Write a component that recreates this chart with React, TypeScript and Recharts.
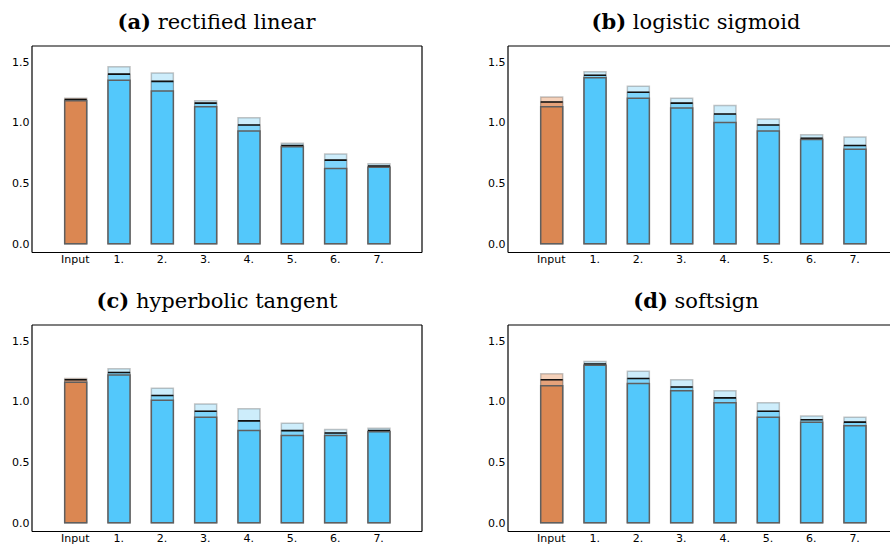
import React from "react";
import { BarChart, Bar, XAxis, YAxis, Cell } from "recharts";

const categories = ["Input", "1.", "2.", "3.", "4.", "5.", "6.", "7."];
const yTicks = [0, 0.5, 1.0, 1.5];

// rectified linear
const reluLow = [1.18, 1.35, 1.26, 1.13, 0.93, 0.8, 0.62, 0.63];
const reluMean = [1.19, 1.4, 1.34, 1.16, 0.98, 0.81, 0.69, 0.64];
const reluHigh = [1.2, 1.46, 1.41, 1.18, 1.04, 0.83, 0.74, 0.66];

// logistic sigmoid
const sigLow = [1.13, 1.37, 1.2, 1.12, 1.0, 0.93, 0.86, 0.78];
const sigMean = [1.17, 1.39, 1.25, 1.16, 1.07, 0.98, 0.87, 0.81];
const sigHigh = [1.21, 1.42, 1.3, 1.2, 1.14, 1.03, 0.9, 0.88];

// hyperbolic tangent
const tanhLow = [1.16, 1.22, 1.01, 0.87, 0.76, 0.72, 0.72, 0.75];
const tanhMean = [1.18, 1.24, 1.05, 0.92, 0.84, 0.76, 0.74, 0.76];
const tanhHigh = [1.19, 1.27, 1.11, 0.98, 0.94, 0.82, 0.77, 0.78];

// softsign
const softLow = [1.13, 1.3, 1.15, 1.09, 0.99, 0.87, 0.83, 0.8];
const softMean = [1.18, 1.31, 1.19, 1.12, 1.03, 0.92, 0.85, 0.83];
const softHigh = [1.23, 1.33, 1.25, 1.18, 1.09, 0.99, 0.88, 0.87];

const FONT = "DejaVu Sans";
const PLOT_W = 390;
const PLOT_H = 206.5;
const Y_W = 32;

const blue = { solid: "#53c8fb", mid: "#7fd5fb", light: "#cdedfb" };
const orange = { solid: "#db8752", mid: "#e5a27a", light: "#f5d1ba" };

function MeanShape(props: any) {
  const { x, y, width, height, fill } = props;
  if (height == null || height <= 0) return null;
  return (
    <g>
      <rect x={x} y={y} width={width} height={height} fill={fill} stroke="rgba(90,90,90,0.4)" strokeWidth={1.2} />
      <line x1={x} x2={x + width} y1={y} y2={y} stroke="#111" strokeWidth={1.6} />
    </g>
  );
}

function Panel({
  title,
  low,
  mean,
  high,
  plotLeft,
  plotTop,
  titleX,
}: {
  title: [string, string];
  low: number[];
  mean: number[];
  high: number[];
  plotLeft: number;
  plotTop: number;
  titleX: number;
}) {
  const data = categories.map((name, i) => ({
    name,
    low: low[i],
    mean: mean[i],
    high: high[i],
  }));
  const domain: [number, number] = [-0.073, 1.632];
  const pad = { left: 21.7, right: 21.7 };
  const topMargin = 5;
  const width = Y_W + PLOT_W + 10;
  const height = topMargin + PLOT_H + 22;
  const tickStyle = { fill: "#000", fontSize: 11, fontFamily: FONT };

  return (
    <>
      <div
        style={{
          position: "absolute",
          left: titleX - 170,
          top: plotTop - 35,
          width: 340,
          textAlign: "center",
          fontFamily: "DejaVu Serif",
          fontSize: 21,
          lineHeight: "22px",
          color: "#000",
          whiteSpace: "nowrap",
        }}
      >
        <b>{title[0]}</b> {title[1]}
      </div>
      <div style={{ position: "absolute", left: plotLeft - Y_W, top: plotTop - topMargin }}>
        <BarChart
          width={width}
          height={height}
          data={data}
          margin={{ top: topMargin, right: 10, bottom: 0, left: 0 }}
          barSize={22}
          barGap={-22}
        >
          <XAxis
            dataKey="name"
            padding={pad}
            height={22}
            tick={tickStyle}
            tickLine={false}
            tickSize={0}
            tickMargin={3}
            axisLine={{ stroke: "#000", strokeWidth: 1.2 }}
            interval={0}
          />
          <XAxis
            xAxisId="top"
            dataKey="name"
            orientation="top"
            mirror
            height={1}
            padding={pad}
            tick={false}
            tickSize={4}
            tickLine={{ stroke: "#000" }}
            axisLine={{ stroke: "#000", strokeWidth: 1.2 }}
            interval={0}
          />
          <YAxis
            type="number"
            domain={domain}
            ticks={yTicks}
            allowDataOverflow
            width={Y_W}
            tick={tickStyle}
            tickFormatter={(v: number) => v.toFixed(1)}
            tickLine={false}
            tickSize={0}
            tickMargin={2.5}
            axisLine={{ stroke: "#000", strokeWidth: 1.2 }}
          />
          <YAxis
            yAxisId="leftIn"
            type="number"
            domain={domain}
            ticks={yTicks}
            allowDataOverflow
            mirror
            width={1}
            tick={false}
            tickSize={4}
            tickLine={{ stroke: "#000" }}
            axisLine={false}
          />
          <YAxis
            yAxisId="right"
            orientation="right"
            type="number"
            domain={domain}
            ticks={yTicks}
            allowDataOverflow
            mirror
            width={1}
            tick={false}
            tickSize={4}
            tickLine={{ stroke: "#000" }}
            axisLine={{ stroke: "#000", strokeWidth: 1.2 }}
          />
          <Bar dataKey="high" isAnimationActive={false} stroke="rgba(90,90,90,0.35)" strokeWidth={1.5}>
            {data.map((d, i) => (
              <Cell key={d.name} fill={i === 0 ? orange.light : blue.light} />
            ))}
          </Bar>
          <Bar dataKey="mean" isAnimationActive={false} shape={<MeanShape />}>
            {data.map((d, i) => (
              <Cell key={d.name} fill={i === 0 ? orange.mid : blue.mid} />
            ))}
          </Bar>
          <Bar dataKey="low" isAnimationActive={false} stroke="#5f5f5f" strokeWidth={1.5}>
            {data.map((d, i) => (
              <Cell key={d.name} fill={i === 0 ? orange.solid : blue.solid} />
            ))}
          </Bar>
        </BarChart>
      </div>
    </>
  );
}

export default function App() {
  return (
    <div
      style={{
        position: "absolute",
        left: 0,
        top: 0,
        width: 890,
        height: 546,
        overflow: "hidden",
        background: "#fff",
      }}
    >
      <Panel title={["(a)", "rectified linear"]} low={reluLow} mean={reluMean} high={reluHigh} plotLeft={31.7} plotTop={46} titleX={216.5} />
      <Panel title={["(b)", "logistic sigmoid"]} low={sigLow} mean={sigMean} high={sigHigh} plotLeft={508.3} plotTop={46} titleX={696} />
      <Panel title={["(c)", "hyperbolic tangent"]} low={tanhLow} mean={tanhMean} high={tanhHigh} plotLeft={31.7} plotTop={324.7} titleX={217} />
      <Panel title={["(d)", "softsign"]} low={softLow} mean={softMean} high={softHigh} plotLeft={508.3} plotTop={324.7} titleX={696} />
    </div>
  );
}
